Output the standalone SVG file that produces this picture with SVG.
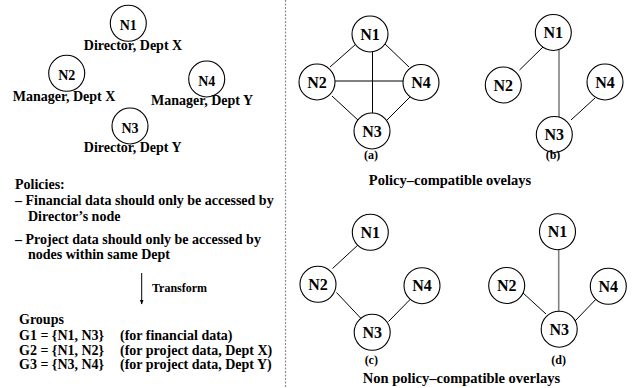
<svg xmlns="http://www.w3.org/2000/svg" width="641" height="388" viewBox="0 0 641 388">
  <style>
    text { font-family: "Liberation Serif", "Times New Roman", serif; font-weight: bold; fill: #000; }
    .lbl { font-size: 14px; text-anchor: middle; }
    .nl { font-size: 14px; text-anchor: middle; }
    .gn { font-size: 16px; text-anchor: middle; }
    .body { font-size: 14px; }
    .cap { font-size: 12px; text-anchor: middle; }
    .title { font-size: 14.5px; text-anchor: middle; }
    .node circle { fill: #fff; stroke: #000; stroke-width: 1.1; }
    .edge { stroke: #000; stroke-width: 1; fill: none; }
    .edge.gray { stroke: #808080; stroke-width: 1.6; }
    .sep { stroke: #8a8a8a; stroke-width: 1.2; stroke-dasharray: 2 1.5; }
  </style>
  <defs>
    <marker id="arrowhead" viewBox="0 0 10 10" refX="9" refY="5" markerWidth="5" markerHeight="7" orient="auto" markerUnits="userSpaceOnUse">
      <path d="M0,1 L10,5 L0,9 Z" fill="#000"/>
    </marker>
  </defs>
  <rect width="641" height="388" fill="#fff"/>

  <!-- vertical divider -->
  <line class="sep" x1="285.5" y1="0" x2="285.5" y2="388"/>

  <!-- organisation nodes -->
  <g id="org-n1" class="node">
    <circle cx="128.3" cy="23.3" r="18"/>
    <text class="nl" x="128.3" y="30">N1</text>
    <text class="lbl" x="133" y="50">Director, Dept X</text>
  </g>
  <g id="org-n2" class="node">
    <circle cx="66.7" cy="73.3" r="18"/>
    <text class="nl" x="66.7" y="80">N2</text>
    <text class="lbl" x="64" y="101">Manager, Dept X</text>
  </g>
  <g id="org-n4" class="node">
    <circle cx="206.7" cy="79" r="18"/>
    <text class="nl" x="206.7" y="85.5">N4</text>
    <text class="lbl" x="202" y="105">Manager, Dept Y</text>
  </g>
  <g id="org-n3" class="node">
    <circle cx="130" cy="126" r="18"/>
    <text class="nl" x="130" y="132.5">N3</text>
    <text class="lbl" x="132.7" y="152">Director, Dept Y</text>
  </g>

  <!-- policies -->
  <g id="policies">
    <text class="body" x="15" y="188.5">Policies:</text>
    <text class="body" x="15" y="205">– Financial data should only be accessed by</text>
    <text class="body" x="28" y="221.3">Director’s node</text>
    <text class="body" x="15" y="243.7">– Project data should only be accessed by</text>
    <text class="body" x="28" y="259.3">nodes within same Dept</text>
  </g>

  <!-- transform step -->
  <g id="transform">
    <line x1="141.7" y1="273" x2="141.7" y2="304" stroke="#000" stroke-width="1" marker-end="url(#arrowhead)"/>
    <text x="152" y="292" font-size="12px">Transform</text>
  </g>

  <!-- groups -->
  <g id="groups">
    <text class="body" x="19" y="323.5">Groups</text>
    <text class="body" x="19" y="340">G1 = {N1, N3}</text>
    <text class="body" x="120" y="340">(for financial data)</text>
    <text class="body" x="19" y="354.5">G2 = {N1, N2}</text>
    <text class="body" x="120" y="354.5">(for project data, Dept X)</text>
    <text class="body" x="19" y="369">G3 = {N3, N4}</text>
    <text class="body" x="120" y="369">(for project data, Dept Y)</text>
  </g>

  <!-- overlay connectors -->
  <g id="connectors">
    <!-- (a) full mesh -->
    <line class="edge" x1="356" y1="44" x2="330" y2="67"/>
    <line class="edge" x1="385" y1="44" x2="409" y2="67"/>
    <line class="edge" x1="335" y1="81" x2="403" y2="81"/>
    <line class="edge" x1="372.5" y1="52" x2="372.5" y2="113"/>
    <line class="edge" x1="332" y1="96" x2="359" y2="121"/>
    <line class="edge" x1="410" y1="97" x2="386" y2="121"/>
    <!-- (b) -->
    <line class="edge" x1="543.5" y1="46.5" x2="519.5" y2="70"/>
    <line class="edge gray" x1="559" y1="50" x2="559" y2="117"/>
    <line class="edge" x1="595" y1="98" x2="571" y2="120"/>
    <!-- (c) -->
    <line class="edge" x1="358.5" y1="244.5" x2="332.5" y2="268.5"/>
    <line class="edge" x1="336.5" y1="292.5" x2="361.5" y2="319"/>
    <line class="edge" x1="412.5" y1="297" x2="388.5" y2="321.5"/>
    <!-- (d) -->
    <line class="edge gray" x1="558.7" y1="248" x2="558.7" y2="313"/>
    <line class="edge" x1="522.5" y1="292.5" x2="546" y2="314"/>
    <line class="edge" x1="600" y1="295" x2="575" y2="321"/>
  </g>

  <!-- overlay (a) -->
  <g id="a-n1" class="node"><circle cx="370" cy="34" r="18"/><text class="gn" x="370" y="39.5">N1</text></g>
  <g id="a-n2" class="node"><circle cx="317" cy="82" r="18"/><text class="gn" x="317" y="87.5">N2</text></g>
  <g id="a-n4" class="node"><circle cx="421" cy="82.5" r="18"/><text class="gn" x="421" y="88">N4</text></g>
  <g id="a-n3" class="node"><circle cx="372" cy="131" r="18"/><text class="gn" x="372" y="136.5">N3</text></g>
  <text class="cap" x="371" y="159">(a)</text>

  <!-- overlay (b) -->
  <g id="b-n1" class="node"><circle cx="553.3" cy="32.5" r="18"/><text class="gn" x="553.3" y="38">N1</text></g>
  <g id="b-n2" class="node"><circle cx="503.3" cy="85" r="18"/><text class="gn" x="503.3" y="90.5">N2</text></g>
  <g id="b-n4" class="node"><circle cx="605" cy="82" r="18"/><text class="gn" x="605" y="87.5">N4</text></g>
  <g id="b-n3" class="node"><circle cx="554.3" cy="134.5" r="18"/><text class="gn" x="554.3" y="140">N3</text></g>
  <text class="cap" x="553" y="159">(b)</text>

  <text class="title" x="450" y="184.5">Policy–compatible ovelays</text>

  <!-- overlay (c) -->
  <g id="c-n1" class="node"><circle cx="370.3" cy="232.3" r="18"/><text class="gn" x="370.3" y="237.8">N1</text></g>
  <g id="c-n2" class="node"><circle cx="318" cy="284.3" r="18"/><text class="gn" x="318" y="289.8">N2</text></g>
  <g id="c-n4" class="node"><circle cx="422" cy="285.7" r="18"/><text class="gn" x="422" y="291.2">N4</text></g>
  <g id="c-n3" class="node"><circle cx="372.2" cy="332.3" r="18"/><text class="gn" x="372.2" y="337.8">N3</text></g>
  <text class="cap" x="371.3" y="363.5">(c)</text>

  <!-- overlay (d) -->
  <g id="d-n1" class="node"><circle cx="557.5" cy="231.7" r="18"/><text class="gn" x="557.5" y="237.2">N1</text></g>
  <g id="d-n2" class="node"><circle cx="506.7" cy="285.5" r="18"/><text class="gn" x="506.7" y="291">N2</text></g>
  <g id="d-n4" class="node"><circle cx="608.3" cy="286.3" r="18"/><text class="gn" x="608.3" y="291.8">N4</text></g>
  <g id="d-n3" class="node"><circle cx="559.2" cy="329.2" r="18"/><text class="gn" x="559.2" y="334.7">N3</text></g>
  <text class="cap" x="558.7" y="363.5">(d)</text>

  <text class="title" x="461.5" y="383">Non policy–compatible overlays</text>
</svg>
